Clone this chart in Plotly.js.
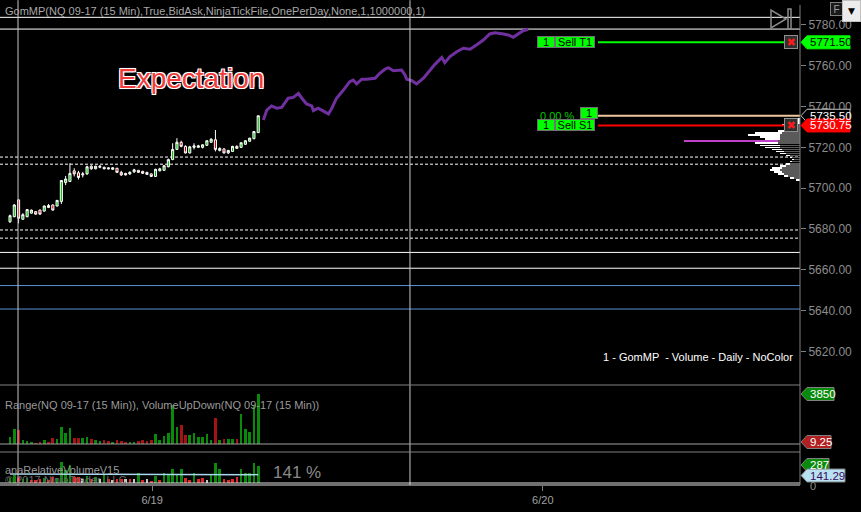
<!DOCTYPE html>
<html><head><meta charset="utf-8">
<script src="https://cdn.plot.ly/plotly-3.0.1.min.js"></script>
<style>html,body{margin:0;padding:0;background:#000;}#chart{width:861px;height:512px;}</style>
</head><body><div id="chart"></div>
<script>
// ---- Candles (NQ 09-17, 15 min) ----
const candleOpen  = [5683.5,5686,5694.25,5684.75,5686,5687.75,5688.5,5689.25,5688.75,5691.5,5691.75,5691.25,5693.5,5702.75,5703.25,5708.5,5707.5,5706.5,5707,5710.75,5709.5,5710.25,5710.25,5710,5709.25,5709.75,5707.75,5707.25,5707,5708,5708.75,5708.25,5707.75,5707,5705.75,5708.5,5708.75,5710.5,5714,5719,5722.5,5720.5,5717.25,5720,5720,5720,5721,5722.5,5723.75,5718.5,5719.25,5717.25,5718,5720.5,5720,5721.5,5723,5724.25,5727.25];
const candleHigh  = [5687,5692.25,5694.5,5687.75,5689.75,5689.5,5688.75,5689.5,5691.5,5692.25,5692,5694.25,5704,5706,5712.25,5709.75,5708.5,5708,5711,5711.25,5711,5711.25,5710.5,5710.25,5710.25,5710,5708.5,5707.5,5708.25,5709.5,5708.75,5708.5,5708,5707.25,5709.5,5710,5711.25,5714.5,5722,5724.5,5723.25,5721,5720.75,5722,5721.25,5721.5,5723.5,5724.5,5728.5,5720,5719.5,5718.75,5720.75,5721,5722.5,5723.5,5724.75,5728,5735.5];
const candleLow   = [5683,5685.75,5682.75,5684.5,5685.75,5687.5,5687,5687,5688.5,5690.25,5689,5691,5692.25,5701.5,5703,5705.75,5704.25,5705.25,5706.5,5709,5709.25,5709.75,5709.25,5709.25,5709,5707.5,5706,5706.25,5706.5,5707.5,5707.5,5707,5706.5,5705.5,5705.5,5708.25,5708.5,5710.25,5713.75,5718.75,5720,5717,5717,5719,5719.75,5719.5,5720.75,5722.25,5718,5718,5717,5716.75,5717.75,5719.25,5719.75,5721.25,5722.75,5724,5727];
const candleClose = [5686.5,5691.75,5685.25,5687,5689.5,5689.25,5687.25,5687.25,5691.25,5690.5,5689.25,5694,5703.75,5704.5,5707.25,5707,5705.25,5707,5710.5,5709.5,5710.75,5710.75,5709.5,5709.5,5710,5707.75,5706.5,5706.5,5707.75,5709,5707.75,5707.25,5706.75,5705.75,5709.25,5709.5,5711,5714,5719,5722.5,5720.5,5717.25,5720.25,5720.75,5720.75,5721.25,5723.25,5724,5719,5719.5,5717.25,5718.5,5720.5,5719.5,5722.25,5723.25,5724.5,5727.75,5735.5];

// ---- Volume (VolumeUpDown) ----
const volume = [540,1155,1080,310,230,155,100,155,310,155,460,385,1310,850,1230,460,460,460,540,385,310,230,310,230,155,310,230,155,155,155,230,310,230,310,770,310,615,850,3000,1310,1460,690,690,850,540,540,770,310,2000,310,385,385,385,385,2310,1155,925,3000,3850];

// ---- Relative volume (anaRelativeVolumeV15) ----
const relVol = [85,135,100,68,85,50,50,68,85,50,100,85,355,220,305,100,100,68,118,68,100,68,135,68,50,68,68,68,68,68,170,50,68,34,118,50,170,135,237,152,237,85,50,170,68,85,50,135,338,237,68,50,68,100,237,170,170,338,287];
const relVolState = ['g','g','r','g','g','r','r','r','g','r','r','g','g','g','g','r','r','w','g','r','g','w','g','r','w','r','r','w','r','w','g','r','w','r','g','r','g','g','g','g','g','r','r','g','r','r','w','g','g','g','r','r','r','r','g','g','g','g','g'];
const relAvg = [150,150,149,149,148,148,147,147,146,146,146,145,145,146,147,147,147,147,146,146,146,145,145,145,144,144,144,143,143,143,143,142,142,142,142,142,142,143,143,144,144,144,144,144,144,143,143,143,144,144,144,143,142,140,140,140,141,141,141.29];

// ---- Expectation path (bar index, price) ----
const expX = [59.2,60.0,61.1,62.3,63.5,65.0,66.2,67.4,68.2,69.3,70.5,70.9,72.0,72.8,73.6,74.4,75.2,76.3,77.9,79.4,80.2,81.0,82.2,83.3,85.3,86.4,87.6,88.4,89.6,90.7,91.5,92.3,92.7,93.9,95.0,96.6,98.1,99.3,100.9,101.6,102.8,104.4,105.9,107.5,109.0,110.6,112.1,113.3,115.3,116.4,117.6,118.8,119.9,121.1];
const expY = [5733.4,5738.3,5740.3,5739.2,5739.6,5744.1,5744.5,5746.5,5744.1,5741.3,5740.3,5738.0,5739.2,5738.3,5737.5,5736.4,5739.2,5744.1,5748.1,5752.2,5753.0,5751.1,5753.4,5753.4,5753.9,5756.3,5758.3,5759.1,5757.6,5757.6,5757.9,5755.5,5753.4,5752.7,5751.1,5753.9,5757.9,5760.7,5764.1,5761.5,5764.5,5766.9,5768.6,5768.1,5770.2,5772.6,5775.6,5776.2,5775.6,5775.1,5774.0,5775.6,5777.2,5777.9];

// ---- Volume profile (GomMP) ----
const profilePrice = [5734,5733,5732,5731,5730,5729,5728,5727,5726,5725,5724,5723,5722,5721,5720,5719,5718,5717,5716,5715,5714,5713,5712,5711,5710,5709,5708,5707,5706,5705,5704];
const profileVol   = [6,10,14,18,12,16,22,45,52,40,35,116,45,40,35,28,24,20,14,10,8,10,14,20,28,30,26,22,16,10,4];
const profileCore  = [0,0,0,8,8,10,14,18,20,20,20,22,22,20,20,18,16,14,10,8,6,8,10,14,18,20,18,16,12,6,0];

// ---- Levels / orders ----
const dashedLevels = [5715.25,5711.75,5679.5,5675.5];
const whiteLevels  = [5783.75,5778.0,5668.5,5660.75];
const blueLevels   = [5652.25,5640.75];
const targetPrice = 5771.50, entryPrice = 5735.50, stopPrice = 5730.75;
const priceTicks = [5620,5640,5660,5680,5700,5720,5740,5760,5780];
const dayTickPos = [33.2,124.5];
const dayTickText = ['6/19','6/20'];
const timeLines = [1.87,93.46];
const lastVolume = 3850, lastRange = '9.25', lastRel = 287, relAvgLast = '141.29';

const FONT = 'Liberation Sans, Arial, sans-serif';
const idx = candleOpen.map((_, i) => i);
const P = x => x / 800;               // layout pixel -> paper x
const Q = y => (485 - y) / 480;       // layout pixel -> paper y

const traces = [];
traces.push({type:'bar', orientation:'h', x:profileVol, y:profilePrice, xaxis:'x2', yaxis:'y', width:0.8,
  marker:{color:profileVol.map(v => v === Math.max(...profileVol) ? '#c040c8' : '#ffffff'), line:{width:0}}, hoverinfo:'skip'});
traces.push({type:'bar', orientation:'h', x:profileCore, y:profilePrice, xaxis:'x2', yaxis:'y', width:0.8,
  marker:{color:'#5a5a5a', line:{width:0}}, hoverinfo:'skip'});
traces.push({type:'candlestick', x:idx, open:candleOpen, high:candleHigh, low:candleLow, close:candleClose,
  xaxis:'x', yaxis:'y', whiskerwidth:0,
  increasing:{line:{color:'#ffffff', width:1}, fillcolor:'#00b400'},
  decreasing:{line:{color:'#ffffff', width:1}, fillcolor:'#c80000'}, hoverinfo:'skip'});
traces.push({type:'scatter', mode:'lines', x:expX, y:expY, xaxis:'x', yaxis:'y',
  line:{color:'#7030a0', width:3, shape:'linear'}, hoverinfo:'skip'});
traces.push({type:'bar', x:idx, y:volume, xaxis:'x', yaxis:'y2', width:0.62,
  marker:{color:idx.map(i => candleClose[i] >= candleOpen[i] ? '#0a8a0a' : '#a51414'), line:{width:0}}, hoverinfo:'skip'});
traces.push({type:'bar', x:idx, y:relVol, xaxis:'x', yaxis:'y3', width:0.62,
  marker:{color:relVolState.map(s => s === 'g' ? '#0a8a0a' : s === 'r' ? '#e02828' : '#c8c8c8'), line:{width:0}}, hoverinfo:'skip'});
traces.push({type:'scatter', mode:'lines', x:idx, y:relAvg, xaxis:'x', yaxis:'y3',
  line:{color:'#a8d8ee', width:1.5}, hoverinfo:'skip'});

const shapes = [];
const annotations = [];
dashedLevels.forEach(v => shapes.push({type:'line', xref:'paper', yref:'y', x0:0, x1:1, y0:v, y1:v, line:{color:'#ffffff', width:1, dash:'3px,2px'}, layer:'below'}));
whiteLevels.forEach(v => shapes.push({type:'line', xref:'paper', yref:'y', x0:0, x1:1, y0:v, y1:v, line:{color:'#ffffff', width:1}, layer:'below'}));
blueLevels.forEach(v => shapes.push({type:'line', xref:'paper', yref:'y', x0:0, x1:1, y0:v, y1:v, line:{color:'#5a92d6', width:1}, layer:'below'}));
timeLines.forEach(v => shapes.push({type:'line', xref:'x', yref:'paper', x0:v, x1:v, y0:0, y1:1.01, line:{color:'#c8c8c8', width:1}, layer:'above'}));

shapes.push({type:'line', xref:'paper', yref:'y', x0:P(598), x1:P(785), y0:targetPrice, y1:targetPrice, line:{color:'#00ff00', width:2}});
shapes.push({type:'line', xref:'paper', yref:'y', x0:P(598), x1:1, y0:entryPrice, y1:entryPrice, line:{color:'#f0c8a0', width:2}});
shapes.push({type:'line', xref:'paper', yref:'y', x0:P(598), x1:P(785), y0:stopPrice, y1:stopPrice, line:{color:'#ff0000', width:2}});

[[385,'#808080'],[444,'#a0a0a0'],[452,'#808080'],[483,'#e0e0e0'],[485,'#e0e0e0']].forEach(([y,c]) =>
  shapes.push({type:'line', xref:'paper', yref:'paper', x0:0, x1:1, y0:Q(y), y1:Q(y), line:{color:c, width:1}}));
shapes.push({type:'line', xref:'paper', yref:'paper', x0:1, x1:1, y0:0, y1:1, line:{color:'#808080', width:1}});

shapes.push({type:'path', xref:'paper', yref:'paper', path:`M ${P(771)} ${Q(10)} L ${P(771)} ${Q(28)} L ${P(786)} ${Q(19)} Z`, line:{color:'#8c8c8c', width:1.5}, fillcolor:'rgba(0,0,0,0)'});
shapes.push({type:'rect', xref:'paper', yref:'paper', x0:P(788), x1:P(791), y0:Q(29), y1:Q(9), line:{color:'#8c8c8c', width:1.5}, fillcolor:'rgba(0,0,0,0)'});

function tag(yref, yval, text, bg, fg, border, w) {
  shapes.push({type:'path', xref:'paper', yref:yref, xsizemode:'pixel', ysizemode:'pixel', xanchor:1, yanchor:yval,
    path:`M 1 0 L 7 6.5 L ${w} 6.5 L ${w} -6.5 L 7 -6.5 Z`, fillcolor:bg, line:{color:border, width:1}});
  annotations.push({xref:'paper', yref:yref, x:1, y:yval, xanchor:'left', yanchor:'middle', xshift:8, text:text, showarrow:false,
    font:{family:FONT, size:11.5, color:fg}});
}
tag('y', targetPrice, targetPrice.toFixed(2), '#00ff00', '#000000', '#00ff00', 50);
tag('y', entryPrice, entryPrice.toFixed(2), '#000000', '#ffffff', '#c0c0c0', 50);
tag('y', stopPrice, stopPrice.toFixed(2), '#ff0000', '#ffffff', '#ff0000', 50);
tag('y2', lastVolume, String(lastVolume), '#0a8a0a', '#ffffff', '#808080', 34);
tag('paper', Q(442), lastRange, '#b02020', '#ffffff', '#808080', 31);
tag('y3', lastRel + 17, String(lastRel), '#0a8a0a', '#ffffff', '#808080', 29);
tag('paper', Q(475.5), relAvgLast, '#b8e2f2', '#3a0a5a', '#808080', 45);
annotations.push({xref:'paper', yref:'paper', x:1, y:Q(486), xanchor:'left', xshift:8, yanchor:'middle', text:'0', showarrow:false, font:{family:FONT, size:11, color:'#8c8c8c'}});

function box(x, yref, y, text, w, bg, fg) {
  annotations.push({xref:'paper', yref:yref, x:P(x), y:y, xanchor:'center', yanchor:'middle', text:text, showarrow:false,
    bgcolor:bg, bordercolor:'#707070', borderwidth:1, borderpad:0, width:w, height:10, font:{family:FONT, size:11, color:fg}});
}
box(546, 'y', targetPrice, '1', 16, '#00ff00', '#000');
box(575, 'y', targetPrice, 'Sell T1', 38, '#00ff00', '#000');
box(589, 'y', entryPrice + 1.5, '1', 16, '#00ff00', '#000');
annotations.push({xref:'paper', yref:'y', x:P(557), y:entryPrice, xanchor:'center', yanchor:'middle', text:'0.00 %', showarrow:false, font:{family:FONT, size:11, color:'#00c800'}});
box(546, 'y', stopPrice, '1', 16, '#00ff00', '#000');
box(575, 'y', stopPrice, 'Sell S1', 38, '#00ff00', '#000');
[targetPrice, stopPrice].forEach(v => annotations.push({xref:'paper', yref:'y', x:P(791), y:v, xanchor:'center', yanchor:'middle', text:'✖', showarrow:false,
  bgcolor:'#303030', bordercolor:'#909090', borderwidth:1, borderpad:0, width:12, height:12, font:{family:'DejaVu Sans', size:11, color:'#ff1a1a'}}));

annotations.push({xref:'paper', yref:'paper', x:P(3), y:Q(11), xanchor:'left', yanchor:'middle', showarrow:false,
  text:'GomMP(NQ 09-17 (15 Min),True,BidAsk,NinjaTickFile,OnePerDay,None,1,1000000,1)', font:{family:FONT, size:11, color:'#a8a8a8'}});
annotations.push({xref:'paper', yref:'paper', x:P(191), y:Q(78), xanchor:'center', yanchor:'middle', showarrow:false, text:'Expectation',
  font:{family:FONT, size:28, color:'#f23c3c', shadow:'-1px -1px 0 #fff, 1px -1px 0 #fff, -1px 1px 0 #fff, 1px 1px 0 #fff, 0 0 2px #fff'}});
annotations.push({xref:'paper', yref:'paper', x:P(795), y:Q(357), xanchor:'right', yanchor:'middle', showarrow:false,
  text:'1 - GomMP  - Volume - Daily - NoColor', font:{family:FONT, size:11, color:'#ffffff'}});
annotations.push({xref:'paper', yref:'paper', x:P(3), y:Q(405), xanchor:'left', yanchor:'middle', showarrow:false,
  text:'Range(NQ 09-17 (15 Min)), VolumeUpDown(NQ 09-17 (15 Min))', font:{family:FONT, size:11, color:'#9a9a9a'}});
annotations.push({xref:'paper', yref:'paper', x:P(3), y:Q(470), xanchor:'left', yanchor:'middle', showarrow:false,
  text:'anaRelativeVolumeV15', font:{family:FONT, size:11, color:'#9a9a9a'}});
annotations.push({xref:'paper', yref:'paper', x:P(3), y:Q(480), xanchor:'left', yanchor:'middle', showarrow:false,
  text:'© 2017 NinjaTrader, LLC', font:{family:FONT, size:11, color:'#6a6a6a'}});
annotations.push({xref:'paper', yref:'paper', x:P(297), y:Q(472), xanchor:'center', yanchor:'middle', showarrow:false,
  text:'141 %', font:{family:FONT, size:17, color:'#8a8a8a'}});
annotations.push({xref:'paper', yref:'paper', x:P(836), y:Q(9), xanchor:'center', yanchor:'middle', showarrow:false, text:'F',
  bgcolor:'#1a1a1a', bordercolor:'#808080', borderwidth:1, borderpad:0, width:11, height:12, font:{family:FONT, size:10, color:'#a0a0a0'}});
annotations.push({xref:'paper', yref:'paper', x:P(851.5), y:Q(11), xanchor:'center', yanchor:'middle', showarrow:false, text:'▼',
  bgcolor:'#ececec', bordercolor:'#c0c0c0', borderwidth:1, borderpad:0, width:17, height:20, font:{family:'DejaVu Sans', size:9, color:'#000'}});

const layout = {
  width:861, height:512, paper_bgcolor:'#000', plot_bgcolor:'#000',
  margin:{l:0, r:61, t:5, b:27, pad:0}, showlegend:false, barmode:'overlay', bargap:0,
  font:{family:FONT, color:'#9a9a9a'},
  xaxis:{range:[-2.34,184.6], anchor:'y3', tickvals:dayTickPos, ticktext:dayTickText, ticks:'outside', ticklen:5,
    tickcolor:'#808080', tickfont:{family:FONT, size:11, color:'#a0a0a0'}, showgrid:false, zeroline:false, showline:false,
    rangeslider:{visible:false}, fixedrange:true},
  xaxis2:{overlaying:'x', range:[800,0], visible:false, anchor:'y', showgrid:false, zeroline:false},
  yaxis:{domain:[Q(385),1], range:[5603.5,5789.8], side:'right', anchor:'x', tickvals:priceTicks, tickformat:'.2f',
    ticks:'outside', ticklen:5, tickcolor:'#808080', tickfont:{family:FONT, size:12, color:'#8c8c8c'},
    showgrid:false, zeroline:false, showline:false},
  yaxis2:{domain:[Q(444),Q(385)], range:[0,4543], anchor:'x', showticklabels:false, ticks:'', showgrid:false, zeroline:false},
  yaxis3:{domain:[0,Q(452)], range:[-34,524], anchor:'x', showticklabels:false, ticks:'', showgrid:false, zeroline:false},
  shapes:shapes, annotations:annotations
};
Plotly.newPlot('chart', traces, layout, {staticPlot:true, displayModeBar:false});
</script></body></html>
